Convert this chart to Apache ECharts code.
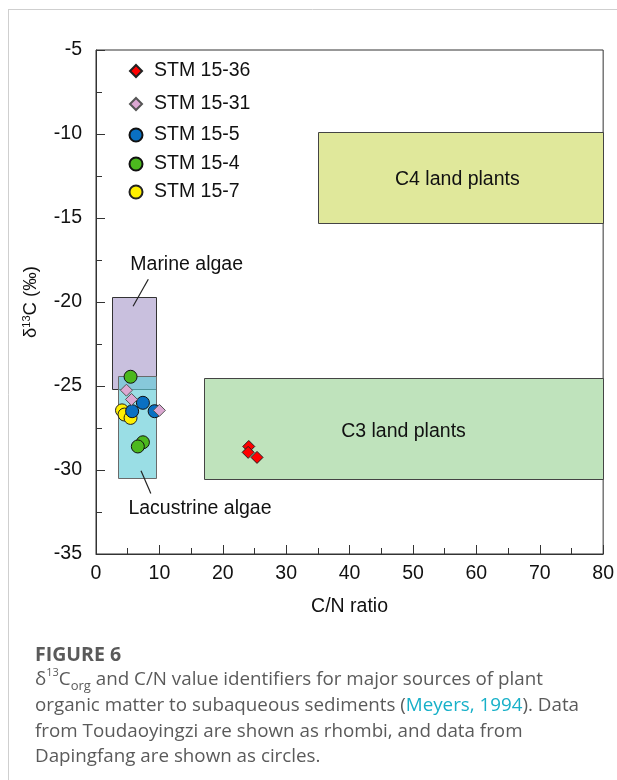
<!DOCTYPE html>
<html>
<head>
<meta charset="utf-8">
<script src="https://cdn.jsdelivr.net/npm/echarts@6/dist/echarts.min.js"></script>
<style>html,body{margin:0;padding:0;background:#fff;}#chart{width:617px;height:780px;}</style>
</head>
<body>
<div id="chart"></div>
<script>
// ---- data ----
const xTicks = [0, 10, 20, 30, 40, 50, 60, 70, 80];
const yTicks = [-35, -30, -25, -20, -15, -10, -5];

const regionNames   = ['Marine algae', 'Lacustrine algae', 'C3 land plants', 'C4 land plants'];
const regionCNMin   = [2.5, 3.5, 17, 35];
const regionCNMax   = [9.5, 9.5, 80, 80];
const regionD13CMin = [-25.2, -30.5, -30.5, -15.3];
const regionD13CMax = [-19.7, -24.4, -24.5, -9.9];

const seriesNames = ['STM 15-36', 'STM 15-31', 'STM 15-5', 'STM 15-4', 'STM 15-7'];
const stm1536CN   = [24.1, 24.0, 25.4];
const stm1536D13C = [-28.6, -28.95, -29.25];
const stm1531CN   = [4.8, 5.6, 10.0];
const stm1531D13C = [-25.25, -25.8, -26.45];
const stm155CN    = [7.4, 5.7, 9.25];
const stm155D13C  = [-26.0, -26.5, -26.5];
const stm154CN    = [5.45, 7.4, 6.6];
const stm154D13C  = [-24.45, -28.35, -28.6];
const stm157CN    = [4.1, 4.5, 5.45];
const stm157D13C  = [-26.45, -26.7, -26.9];

// annotation anchors (data units)
const annoText  = ['Marine algae', 'Lacustrine algae', 'C4 land plants', 'C3 land plants'];
const annoX     = [14.3, 16.4, 57.0, 48.5];
const annoY     = [-17.8, -32.3, -12.7, -27.7];
const leaderX1  = [8.25, 7.1];
const leaderY1  = [-18.65, -30.05];
const leaderX2  = [5.85, 8.65];
const leaderY2  = [-20.25, -31.4];

// ---- styles ----
const FONT = '"Liberation Sans", Arial, sans-serif';
const FS = 19.5;
const regionFill   = ['#c9c0de', 'rgba(100,205,215,0.65)', '#bfe3bc', '#e0e89b'];
const regionStroke = ['#333', '#6a6a6a', '#444', '#444'];
const seriesColor  = ['#ff0000', '#dca8d2', '#0a70c2', '#4cb81e', '#fff000'];
const seriesBorder = ['#222', '#555', '#111', '#111', '#222'];
const seriesSymbol = ['diamond', 'diamond', 'circle', 'circle', 'circle'];
const seriesSize   = [12, 12, 13, 13, 13];
const seriesZ      = [6, 5, 4, 3, 2];
const legendTop    = [56, 89, 120, 149, 177];

function zip(a, b) { return a.map((v, i) => [v, b[i]]); }
const seriesData = [
  zip(stm1536CN, stm1536D13C),
  zip(stm1531CN, stm1531D13C),
  zip(stm155CN, stm155D13C),
  zip(stm154CN, stm154D13C),
  zip(stm157CN, stm157D13C)
];

const regionData = regionNames.map((n, i) => [regionCNMin[i], regionD13CMin[i], regionCNMax[i], regionD13CMax[i], i]);

const chart = echarts.init(document.getElementById('chart'), null, { renderer: 'canvas' });

const scatterSeries = seriesNames.map((name, i) => ({
  name: name,
  type: 'scatter',
  symbol: seriesSymbol[i],
  symbolSize: seriesSize[i],
  z: seriesZ[i],
  itemStyle: { color: seriesColor[i], borderColor: seriesBorder[i], borderWidth: 1, opacity: 1 },
  emphasis: { disabled: true },
  data: seriesData[i]
}));

const option = {
  animation: false,
  backgroundColor: '#fff',
  grid: { left: 96, right: 13, top: 50, bottom: 226, show: true, borderColor: '#333', borderWidth: 1, backgroundColor: 'transparent' },
  xAxis: {
    type: 'value', min: 0, max: 80, interval: 10,
    name: 'C/N ratio', nameLocation: 'middle', nameGap: 43,
    nameTextStyle: { fontFamily: FONT, fontSize: FS, color: '#111' },
    axisLine: { show: true, lineStyle: { color: '#333', width: 1 } },
    axisTick: { show: true, inside: true, length: 9, lineStyle: { color: '#333' } },
    minorTick: { show: true, splitNumber: 2, length: 6, lineStyle: { color: '#333' } },
    axisLabel: { fontFamily: FONT, fontSize: FS, color: '#111', margin: 10 },
    splitLine: { show: false }, minorSplitLine: { show: false }
  },
  yAxis: {
    type: 'value', min: -35, max: -5, interval: 5,
    name: '{a|δ}{s|13}{a|C (‰)}', nameLocation: 'middle', nameGap: 56, nameRotate: 90,
    nameTextStyle: { rich: { a: { fontFamily: FONT, fontSize: 18.5, color: '#111' }, s: { fontFamily: FONT, fontSize: 11, color: '#111', verticalAlign: 'top', lineHeight: 18 } } },
    axisLine: { show: true, lineStyle: { color: '#333', width: 1 } },
    axisTick: { show: true, inside: true, length: 9, lineStyle: { color: '#333' } },
    minorTick: { show: true, splitNumber: 2, length: 6, lineStyle: { color: '#333' } },
    axisLabel: { fontFamily: FONT, fontSize: FS, color: '#111', margin: 14 },
    splitLine: { show: false }, minorSplitLine: { show: false }
  },
  legend: seriesNames.map((n, i) => ({
    data: [n], left: 130 - seriesSize[i] / 2, top: legendTop[i], orient: 'vertical',
    itemWidth: seriesSize[i], itemHeight: seriesSize[i], itemGap: 0,
    selectedMode: false,
    textStyle: { fontFamily: FONT, fontSize: FS, color: '#111', padding: [0, 0, 0, 7 - (seriesSize[i] - 12) / 2] }
  })),
  series: [
    {
      type: 'custom', name: 'regions', z: 1, silent: true,
      renderItem: function (params, api) {
        const i = api.value(4);
        const p1 = api.coord([api.value(0), api.value(3)]);
        const p2 = api.coord([api.value(2), api.value(1)]);
        return {
          type: 'rect',
          shape: { x: Math.round(p1[0]) + 0.5, y: Math.round(p1[1]) + 0.5, width: Math.round(p2[0] - p1[0]), height: Math.round(p2[1] - p1[1]) },
          style: { fill: regionFill[i], stroke: regionStroke[i], lineWidth: 1 }
        };
      },
      data: regionData,
      encode: { x: [0, 2], y: [1, 3] }
    },
    {
      type: 'custom', name: 'annotations', z: 7, silent: true,
      renderItem: function (params, api) {
        const i = params.dataIndex;
        const c = api.coord([annoX[i], annoY[i]]);
        const children = [{
          type: 'text',
          style: { x: c[0], y: c[1], text: annoText[i], fill: '#111', font: FS + 'px ' + FONT, align: 'center', verticalAlign: 'middle' }
        }];
        if (i < leaderX1.length) {
          const a = api.coord([leaderX1[i], leaderY1[i]]);
          const b = api.coord([leaderX2[i], leaderY2[i]]);
          children.push({ type: 'line', shape: { x1: a[0], y1: a[1], x2: b[0], y2: b[1] }, style: { stroke: '#222', lineWidth: 1.2 } });
        }
        return { type: 'group', children: children };
      },
      data: annoText.map((t, i) => [annoX[i], annoY[i]])
    }
  ].concat(scatterSeries),
  graphic: [
    { type: 'line', shape: { x1: 8.5, y1: 9.5, x2: 8.5, y2: 780 }, style: { stroke: '#cfcfcf', lineWidth: 1 } },
    { type: 'line', shape: { x1: 8, y1: 9.5, x2: 617, y2: 9.5 }, style: { stroke: '#cfcfcf', lineWidth: 1 } },
    {
      type: 'text', left: 35, top: 645,
      style: { text: 'FIGURE 6', fill: '#5a5a5a', font: 'bold 19.5px "Open Sans", sans-serif' }
    },
    {
      type: 'text', left: 35, top: 667,
      style: {
        text: '{t|δ}{s|13}{t|C}{b|org}{t| and C/N value identifiers for major sources of plant}\n' +
              '{t|organic matter to subaqueous sediments (}{l|Meyers, 1994}{t|). Data}\n' +
              '{t|from Toudaoyingzi are shown as rhombi, and data from}\n' +
              '{t|Dapingfang are shown as circles.}',
        rich: {
          t: { fill: '#5a5a5a', fontFamily: '"Open Sans", sans-serif', fontSize: 18.8, lineHeight: 25.7 },
          l: { fill: '#17b0c8', fontFamily: '"Open Sans", sans-serif', fontSize: 18.8, lineHeight: 25.7 },
          s: { fill: '#5a5a5a', fontFamily: '"Open Sans", sans-serif', fontSize: 11, verticalAlign: 'top', lineHeight: 25.7, padding: [0, 0, 8, 0] },
          b: { fill: '#5a5a5a', fontFamily: '"Open Sans", sans-serif', fontSize: 13, verticalAlign: 'bottom', lineHeight: 25.7, padding: [6, 0, 0, 0] }
        }
      }
    }
  ]
};
chart.setOption(option);
</script>
</body>
</html>
